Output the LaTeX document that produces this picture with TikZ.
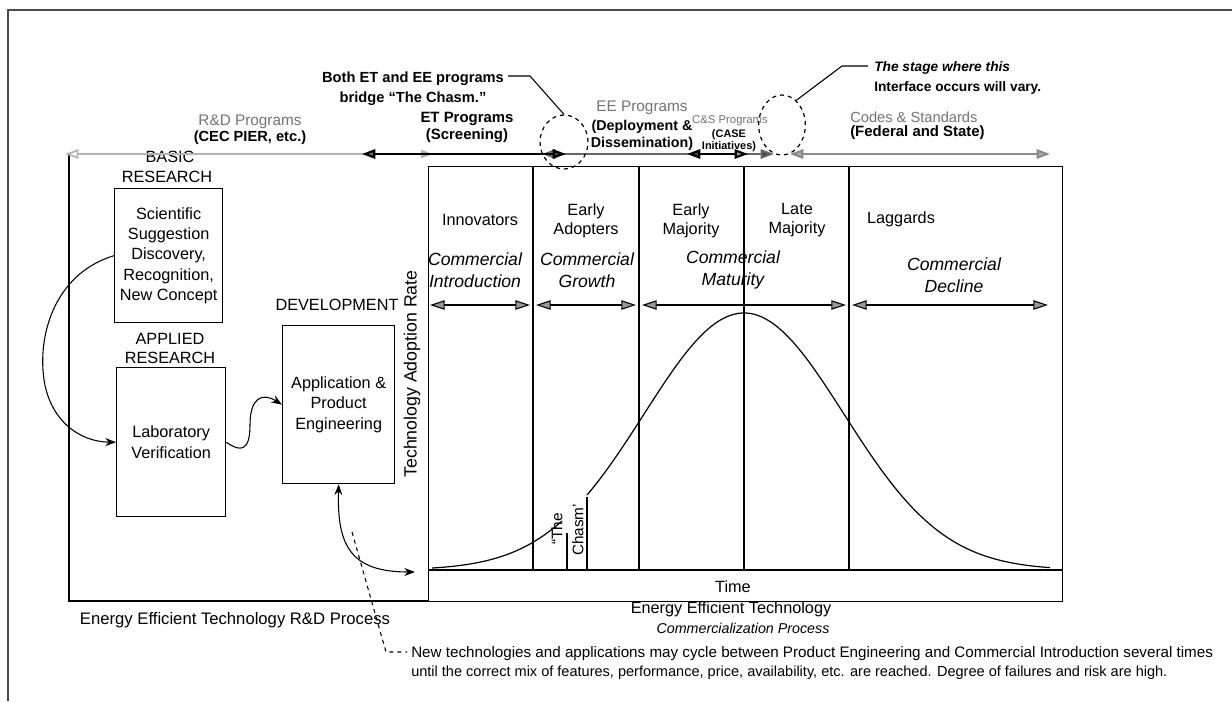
\documentclass[tikz,border=0pt]{standalone}
\usepackage{fontspec}
\setmainfont{Liberation Sans}
\usetikzlibrary{arrows.meta,shapes.geometric}
\newcommand\fsz[2]{\fontsize{#1}{#2}\selectfont}
\tikzset{
  txt/.style={inner sep=0pt, align=center, font=\fsz{12.2}{15.2}},
  ital/.style={inner sep=0pt, align=center, font=\fsz{13.2}{16.5}\itshape},
  progbold/.style={inner sep=0pt, align=center, font=\fsz{11}{12.5}\bfseries},
  proggray/.style={inner sep=0pt, align=center, text=black!55, font=\fsz{11.5}{13}},
  box/.style={draw, line width=1pt},
  thinline/.style={line width=0.9pt},
  phase/.style={line width=0.8pt,
     {Triangle[length=11pt,width=7pt,fill=black!40]}-{Triangle[length=11pt,width=7pt,fill=black!40]}},
  progarrow/.style={line width=1.6pt},
  chasmring/.style={draw, dashed, ellipse, line width=0.9pt, inner sep=0pt},
  flow/.style={line width=0.8pt, -{Stealth[length=8pt,width=6pt]}},
  flowboth/.style={line width=0.8pt, {Stealth[length=8pt,width=6pt]}-{Stealth[length=8pt,width=6pt]}},
}
\begin{document}
\begin{tikzpicture}[x=0.75pt,y=-0.75pt]
\useasboundingbox (0,0) rectangle (1232,701);
% outer frame
\draw[line width=0.8pt, black!70] (1232,10) -- (8,10) -- (8,701);

% ---------- R&D process box ----------
\coordinate (rdTL) at (69,154);
\coordinate (rdBL) at (69,601);
\coordinate (rdBR) at (428,601);
\draw[box] (rdTL) -- (rdBL) -- (rdBR);

% ---------- commercialization box ----------
\node[box, minimum width=475.5pt, minimum height=326.25pt, anchor=north west, inner sep=0pt] (com) at (428,166) {};
\coordinate (baseL) at (428,570);
\coordinate (baseR) at (1062,570);
\draw[thinline] (baseL) -- (baseR);
\foreach \sx/\nm in {533/s1,639/s2,744/s3,849/s4}{
  \coordinate (\nm t) at (\sx,166);
  \coordinate (\nm b) at (\sx,570);
  \draw[thinline] (\nm t) -- (\nm b);
}
\coordinate (chA t) at (567,533); \coordinate (chA b) at (567,570);
\coordinate (chB t) at (587,497); \coordinate (chB b) at (587,570);
\draw[thinline] (chA t) -- (chA b);
\draw[thinline] (chB t) -- (chB b);

% bell curve
\draw[line width=0.9pt] plot[domain=432:562, samples=60] (\x,{570-257*exp(-((\x-744)/100)^2/2)});
\draw[line width=0.9pt] plot[domain=587:1050, samples=120] (\x,{570-257*exp(-((\x-744)/100)^2/2)});

% adopter groups
\node[txt] (innov) at (480,220) {Innovators};
\node[txt, font=\fsz{12.2}{14.25}] (eadopt) at (586,220.5) {Early\\Adopters};
\node[txt, font=\fsz{12.2}{14.25}] (emaj) at (691,220.5) {Early\\Majority};
\node[txt, font=\fsz{12.2}{14.25}] (lmaj) at (797,220.5) {Late\\Majority};
\node[txt] (lagg) at (901,219) {Laggards};

% phases
\node[ital] (pIntro) at (475,270) {Commercial\\Introduction};
\node[ital] (pGrow) at (587,270) {Commercial\\Growth};
\node[ital] (pMat) at (733,270) {Commercial\\Maturity};
\node[ital] (pDec) at (954,275) {Commercial\\Decline};
\coordinate (a1l) at (430,305); \coordinate (a1r) at (530,305);
\coordinate (a2l) at (536,305); \coordinate (a2r) at (636,305);
\coordinate (a3l) at (642,305); \coordinate (a3r) at (846,305);
\coordinate (a4l) at (852,305); \coordinate (a4r) at (1048,305);
\draw[phase] (a1l) -- (a1r);
\draw[phase] (a2l) -- (a2r);
\draw[phase] (a3l) -- (a3r);
\draw[phase] (a4l) -- (a4r);

% chasm labels
\node[txt, rotate=90, font=\fsz{11.5}{13}] (the) at (557,529) {“The};
\node[txt, rotate=90, font=\fsz{11.5}{13}] (chasm) at (578,530) {Chasm’};

\node[txt] (time) at (733,587) {Time};
\node[txt, rotate=90, font=\fsz{13.3}{15}] (rate) at (412,374) {Technology Adoption Rate};

\node[txt] (eetc1) at (731,609) {Energy Efficient Technology};
\node[txt, font=\fsz{10.7}{13}\itshape] (eetc2) at (743,628) {Commercialization Process};
\node[txt, font=\fsz{12.5}{15}] (eetrd) at (235,620) {Energy Efficient Technology R\&D Process};

% ---------- R&D stages ----------
\node[txt] (basic) at (170,157) {BASIC};
\node[txt] (basic2) at (167,177) {RESEARCH};
\node[box, minimum width=81pt, minimum height=100.5pt, anchor=north west, inner sep=0pt] (sci) at (114,188) {};
\node[txt] at (sci.center) {Scientific\\Suggestion\\Discovery,\\Recognition,\\New Concept};

\node[txt, font=\fsz{12.2}{14.25}] (applied) at (170,348) {APPLIED\\RESEARCH};
\node[box, minimum width=81.75pt, minimum height=111.75pt, anchor=north west, inner sep=0pt] (lab) at (116,367) {};
\node[txt] at (lab.center) {Laboratory\\Verification};

\node[txt] (devel) at (337,305) {DEVELOPMENT};
\node[box, minimum width=84pt, minimum height=118.5pt, anchor=north west, inner sep=0pt] (app) at (282,325) {};
\node[txt] at (app.center) {Application \&\\Product\\Engineering};

\draw[flow] (sci.west) .. controls (60,272) and (40,325) .. (43,370) .. controls (46,420) and (80,442) .. (lab.west);
\draw[flow] (lab.east) .. controls (240,452) and (250,452) .. (250,425) .. controls (250,398) and (262,392) .. (app.west);
\coordinate (tip) at (415,572);
\draw[flowboth] (app.south) .. controls (337,545) and (350,572) .. (tip);

% ---------- top program arrows ----------
\coordinate (rdL) at (65,154); \coordinate (rdR) at (433,154);
\coordinate (etL) at (362,154); \coordinate (etR) at (566,154);
\coordinate (eeL) at (542,154); \coordinate (eeR) at (774,154);
\coordinate (csL) at (687,154); \coordinate (csR) at (748,154);
\coordinate (cdL) at (790,154); \coordinate (cdR) at (1050,154);
\draw[line width=1.3pt, black!30, {Triangle[open,length=10pt,width=7pt]}-{Triangle[length=9pt,width=6pt,fill=black!30]}] (rdL) -- (rdR);
\draw[progarrow, black!45, {Triangle[length=10pt,width=7pt,fill=black!30]}-{Triangle[length=10pt,width=7pt,fill=black!30]}] (cdL) -- (cdR);
\draw[progarrow, black!60, {Triangle[length=10pt,width=7pt,fill=black!30]}-{Triangle[length=10pt,width=7pt,fill=black!75]}] (eeL) -- (eeR);
\draw[progarrow, black, {Triangle[length=10pt,width=7pt,fill=black!55]}-{Triangle[length=10pt,width=7pt,fill=black!75]}] (etL) -- (etR);
\draw[progarrow, black, {Triangle[length=10pt,width=7pt,fill=black!75]}-{Triangle[length=10pt,width=7pt,fill=black!35]}] (csL) -- (csR);

% program labels
\node[proggray] (rdp) at (250,122) {R\&D Programs};
\node[progbold] (cec) at (250,138) {(CEC PIER, etc.)};
\node[progbold, font=\fsz{11.2}{12.75}\bfseries] (etp) at (467,127) {ET Programs\\(Screening)};
\node[proggray] (eep) at (642,108) {EE Programs};
\node[progbold, font=\fsz{10.7}{12.75}\bfseries] (eedd) at (642,135) {(Deployment \&\\Dissemination)};
\node[proggray, font=\fsz{8.5}{10}] (csp) at (730,121) {C\&S Programs};
\node[progbold, font=\fsz{8.2}{9}\bfseries] (csi) at (729,141) {(CASE\\Initiatives)};
\node[proggray, anchor=west, font=\fsz{11}{13}] (cds) at (850,117) {Codes \& Standards};
\node[progbold, anchor=west, font=\fsz{11.2}{13}\bfseries] (fed) at (850,133) {(Federal and State)};

% chasm rings and callouts
\node[chasmring, minimum width=36pt, minimum height=40.5pt] (ring1) at (564,142) {};
\node[chasmring, minimum width=35pt, minimum height=45pt] (ring2) at (782,125) {};
\node[progbold, font=\fsz{11}{15}\bfseries] (both) at (413,89) {Both ET and EE programs\\bridge “The Chasm.”};
\node[progbold, anchor=west, align=left, font=\fsz{10.3}{15}\bfseries] (stage) at (874,78) {\textit{The stage where this}\\Interface occurs will vary.};
\coordinate (bothEnd) at (508,76);
\coordinate (bothBend) at (530,76);
\draw[line width=0.8pt] (bothEnd) -- (bothBend) -- (ring1.north);
\coordinate (stageEnd) at (868,66);
\coordinate (stageBend) at (842,66);
\draw[line width=0.8pt] (stageEnd) -- (stageBend) -- (ring2.60);

% footnote
\coordinate (noteTop) at (352,532);
\coordinate (noteBend) at (386,652);
\coordinate (noteEnd) at (407,652);
\draw[line width=0.8pt, dashed] (noteTop) -- (noteBend) -- (noteEnd);
\node[txt, anchor=west, align=left, font=\fsz{11}{14.25}] (note) at (411,663) {{\fsz{11.4}{14.25}New technologies and applications may cycle between Product Engineering and Commercial Introduction several times}\\{\fsz{10.9}{14.25}until the correct mix of features, performance, price, availability, etc. are reached. Degree of failures and risk are high.}};
\end{tikzpicture}
\end{document}
